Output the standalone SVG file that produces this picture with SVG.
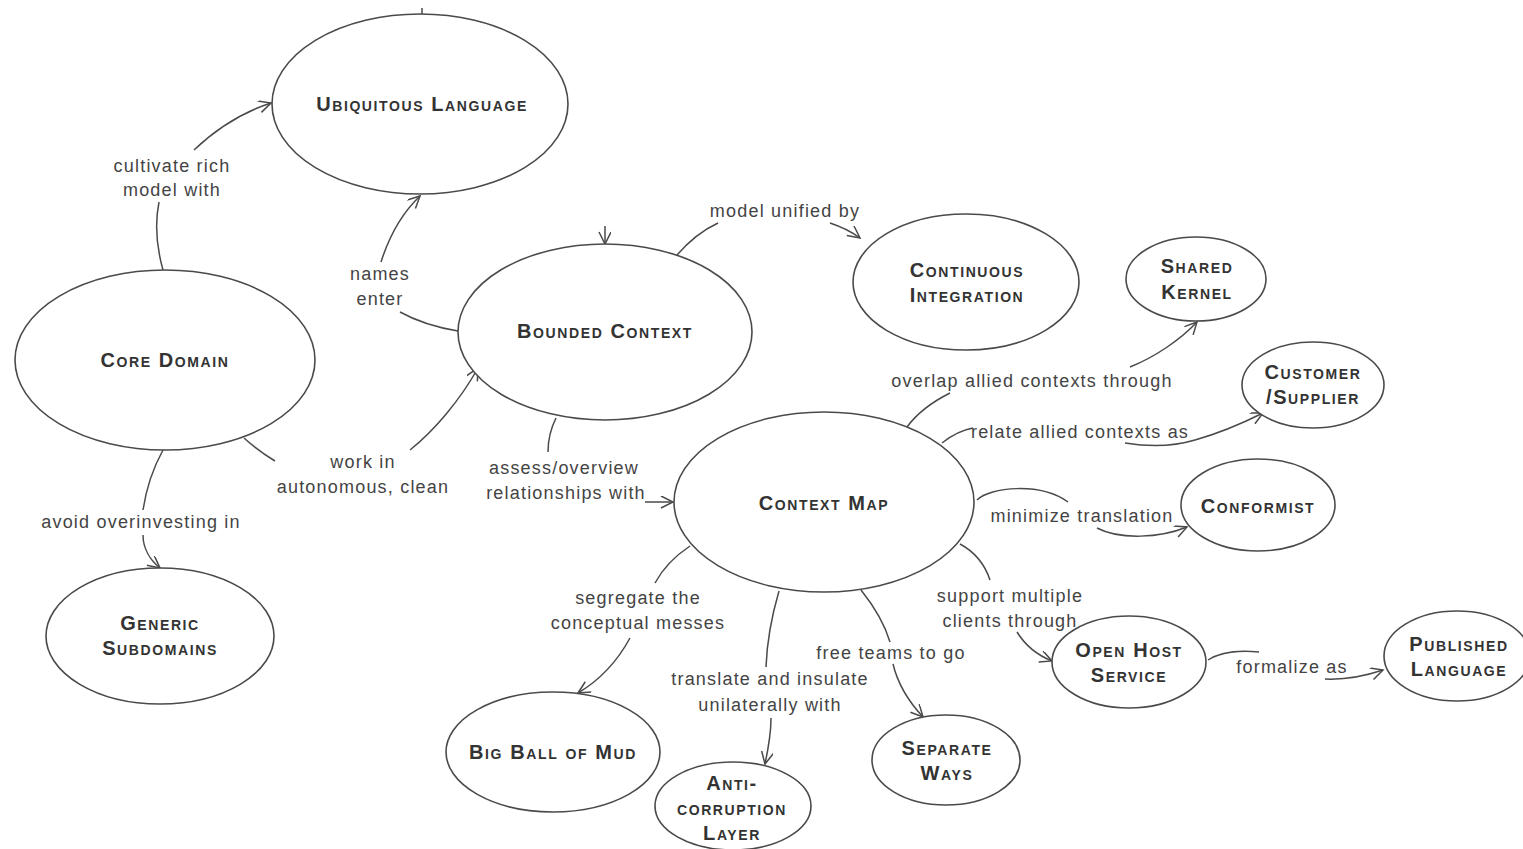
<svg xmlns="http://www.w3.org/2000/svg" width="1523" height="849" viewBox="0 0 1523 849">
  <style>
    .node ellipse { fill: #ffffff; stroke: #4a4a4a; stroke-width: 1.6; }
    .node text { font-family: "Liberation Sans", Arial, sans-serif; font-size: 20px; font-weight: bold; font-variant: small-caps; letter-spacing: 1.6px; fill: #333333; text-anchor: middle; }
    .edge path { fill: none; stroke: #4a4a4a; stroke-width: 1.5; }
    .edge path.arrow { marker-end: url(#head); }
    .lbl { font-family: "Liberation Sans", Arial, sans-serif; font-size: 18px; letter-spacing: 1.2px; fill: #444444; text-anchor: middle; }
  </style>
  <defs>
    <marker id="head" markerUnits="userSpaceOnUse" markerWidth="16" markerHeight="14" refX="13" refY="6" orient="auto">
      <path d="M1,0 L13,6 L1,12" fill="none" stroke="#4a4a4a" stroke-width="1.5"/>
    </marker>
  </defs>
  <rect width="1523" height="849" fill="#ffffff"/>

  <!-- connectors -->
  <g id="connectors" class="edge">
    <!-- core domain -> ubiquitous language -->
    <path d="M163,270 C156,245 155,222 159,202"/>
    <path class="arrow" d="M194,150 C215,130 240,113 271,103"/>
    <!-- bounded context -> ubiquitous language -->
    <path d="M458,331 C440,328 418,322 400,312"/>
    <path class="arrow" d="M381,262 C388,240 400,215 420,196"/>
    <!-- core domain -> bounded context -->
    <path d="M244,438 C255,448 265,455 275,461"/>
    <path class="arrow" d="M410,450 C435,430 460,400 478,368"/>
    <!-- core domain -> generic subdomains -->
    <path d="M163,450 C152,470 146,490 143,510"/>
    <path class="arrow" d="M143,535 C143,548 150,560 160,568"/>
    <!-- bounded context -> continuous integration -->
    <path d="M677,255 C690,240 703,230 718,223"/>
    <path class="arrow" d="M830,223 C842,227 852,232 860,238"/>
    <!-- bounded context -> context map -->
    <path d="M556,418 C551,428 548,440 548,452"/>
    <path class="arrow" d="M645,502 L673,502"/>
    <!-- stubs entering from above -->
    <path class="arrow" d="M605,226 L605,244"/>
    <path d="M422,8 L422,15"/>
    <!-- context map -> shared kernel -->
    <path d="M907,427 C918,412 932,402 950,393"/>
    <path class="arrow" d="M1130,367 C1155,357 1180,340 1197,322"/>
    <!-- context map -> customer/supplier -->
    <path d="M942,443 C952,435 962,430 973,428"/>
    <path class="arrow" d="M1125,443 C1150,447 1175,446 1195,440 C1220,433 1243,423 1263,413"/>
    <!-- context map -> conformist -->
    <path d="M977,500 C990,487 1040,482 1068,502"/>
    <path class="arrow" d="M1097,528 C1120,540 1160,538 1187,527"/>
    <!-- context map -> open host service -->
    <path d="M960,544 C975,552 985,565 990,580"/>
    <path class="arrow" d="M1017,632 C1025,645 1037,655 1052,661"/>
    <!-- open host service -> published language -->
    <path d="M1208,660 C1220,652 1240,650 1259,652"/>
    <path class="arrow" d="M1325,679 C1345,680 1365,676 1383,670"/>
    <!-- context map -> big ball of mud -->
    <path d="M690,546 C675,556 662,570 655,583"/>
    <path class="arrow" d="M630,638 C618,660 600,680 578,693"/>
    <!-- context map -> anti-corruption layer -->
    <path d="M779,591 C772,615 767,640 766,667"/>
    <path class="arrow" d="M771,718 C771,735 768,750 765,764"/>
    <!-- context map -> separate ways -->
    <path d="M861,590 C873,605 884,622 890,642"/>
    <path class="arrow" d="M893,664 C898,685 910,703 923,717"/>

    <!-- relation labels -->
    <text class="lbl" x="172" y="172">cultivate rich</text>
    <text class="lbl" x="172" y="196">model with</text>
    <text class="lbl" x="380" y="280">names</text>
    <text class="lbl" x="380" y="305">enter</text>
    <text class="lbl" x="363" y="468">work in</text>
    <text class="lbl" x="363" y="493">autonomous, clean</text>
    <text class="lbl" x="141" y="528">avoid overinvesting in</text>
    <text class="lbl" x="785" y="217">model unified by</text>
    <text class="lbl" x="564" y="474">assess/overview</text>
    <text class="lbl" x="566" y="499">relationships with</text>
    <text class="lbl" x="1032" y="387">overlap allied contexts through</text>
    <text class="lbl" x="1080" y="438">relate allied contexts as</text>
    <text class="lbl" x="1082" y="522">minimize translation</text>
    <text class="lbl" x="1010" y="602">support multiple</text>
    <text class="lbl" x="1010" y="627">clients through</text>
    <text class="lbl" x="1292" y="673">formalize as</text>
    <text class="lbl" x="638" y="604">segregate the</text>
    <text class="lbl" x="638" y="629">conceptual messes</text>
    <text class="lbl" x="770" y="685">translate and insulate</text>
    <text class="lbl" x="770" y="711">unilaterally with</text>
    <text class="lbl" x="891" y="659">free teams to go</text>
  </g>

  <!-- concepts -->
  <g id="ubiquitous-language" class="node">
    <ellipse cx="420" cy="104" rx="148" ry="90"/>
    <text x="422" y="111">Ubiquitous Language</text>
  </g>
  <g id="core-domain" class="node">
    <ellipse cx="165" cy="360" rx="150" ry="90"/>
    <text x="165" y="367">Core Domain</text>
  </g>
  <g id="generic-subdomains" class="node">
    <ellipse cx="160" cy="636" rx="114" ry="68"/>
    <text x="160" y="630">Generic</text>
    <text x="160" y="655">Subdomains</text>
  </g>
  <g id="bounded-context" class="node">
    <ellipse cx="605" cy="332" rx="147" ry="88"/>
    <text x="605" y="338">Bounded Context</text>
  </g>
  <g id="continuous-integration" class="node">
    <ellipse cx="966" cy="282" rx="113" ry="68"/>
    <text x="967" y="277">Continuous</text>
    <text x="967" y="302">Integration</text>
  </g>
  <g id="shared-kernel" class="node">
    <ellipse cx="1196" cy="279" rx="70" ry="42"/>
    <text x="1197" y="273">Shared</text>
    <text x="1197" y="299">Kernel</text>
  </g>
  <g id="customer-supplier" class="node">
    <ellipse cx="1313" cy="385" rx="71" ry="43"/>
    <text x="1313" y="379">Customer</text>
    <text x="1313" y="404">/Supplier</text>
  </g>
  <g id="conformist" class="node">
    <ellipse cx="1258" cy="505" rx="77" ry="46"/>
    <text x="1258" y="513">Conformist</text>
  </g>
  <g id="context-map" class="node">
    <ellipse cx="824" cy="502" rx="150" ry="90"/>
    <text x="824" y="510">Context Map</text>
  </g>
  <g id="open-host-service" class="node">
    <ellipse cx="1129" cy="662" rx="77" ry="46"/>
    <text x="1129" y="657">Open Host</text>
    <text x="1129" y="682">Service</text>
  </g>
  <g id="published-language" class="node">
    <ellipse cx="1457" cy="656" rx="73" ry="45"/>
    <text x="1459" y="651">Published</text>
    <text x="1459" y="676">Language</text>
  </g>
  <g id="big-ball-of-mud" class="node">
    <ellipse cx="553" cy="752" rx="107" ry="60"/>
    <text x="553" y="759">Big Ball of Mud</text>
  </g>
  <g id="anti-corruption-layer" class="node">
    <ellipse cx="733" cy="806" rx="78" ry="44"/>
    <text x="732" y="790">Anti-</text>
    <text x="732" y="815">corruption</text>
    <text x="732" y="840">Layer</text>
  </g>
  <g id="separate-ways" class="node">
    <ellipse cx="946" cy="760" rx="74" ry="45"/>
    <text x="947" y="755">Separate</text>
    <text x="947" y="780">Ways</text>
  </g>
</svg>
